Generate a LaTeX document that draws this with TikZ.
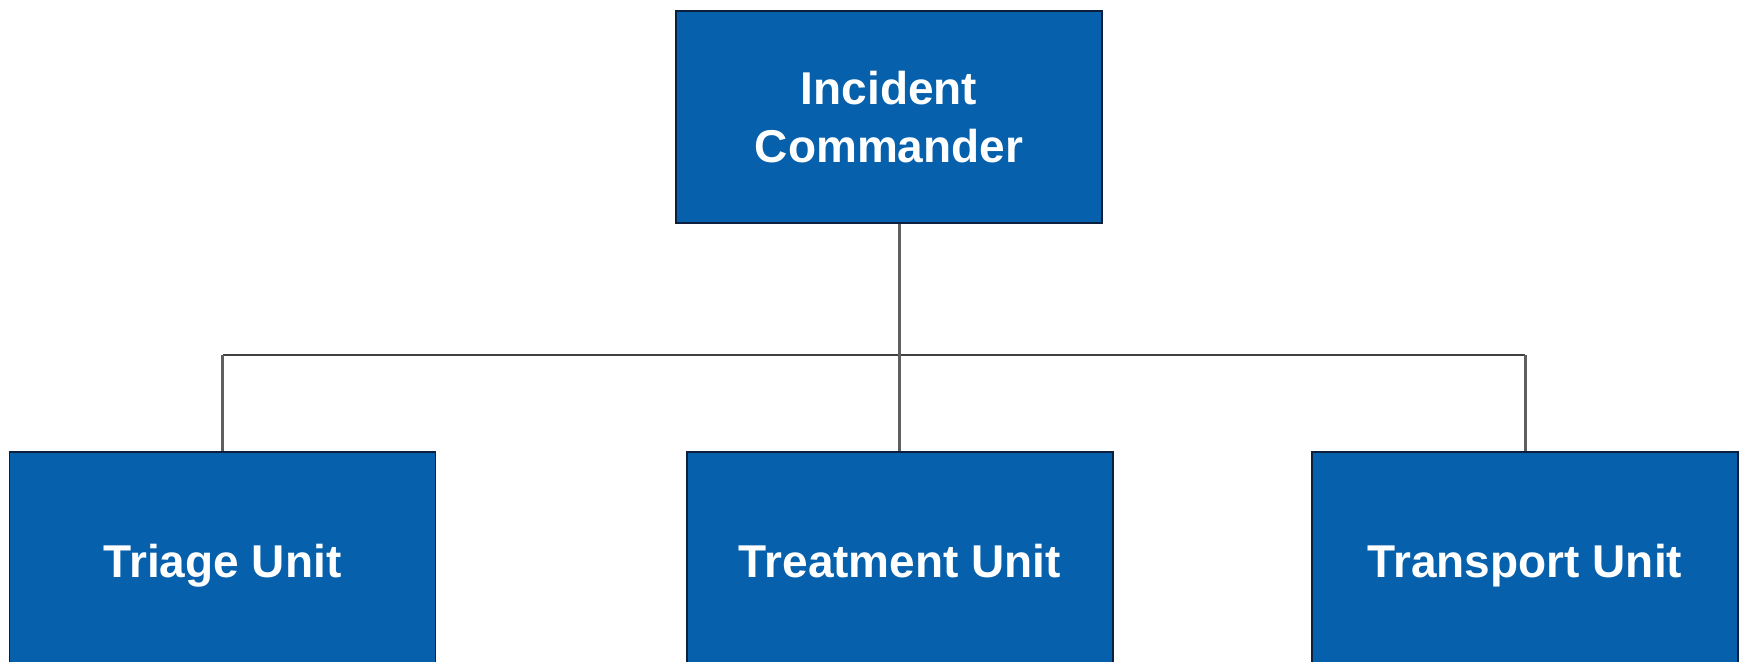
\documentclass[tikz,border=0pt]{standalone}
\usepackage{fontspec}
\setmainfont{Liberation Sans}
\definecolor{boxblue}{RGB}{6,96,172}
\definecolor{boxedge}{RGB}{12,32,62}
\definecolor{linegray}{RGB}{95,95,95}
\begin{document}
\begin{tikzpicture}[x=0.5pt,y=-0.5pt,
  unitbox/.style={draw=boxedge,line width=0.8pt,fill=boxblue,text=white,
    font=\bfseries\fontsize{23}{30}\selectfont,inner sep=0pt,
    minimum width=213pt,align=center},
  vline/.style={draw=linegray,line width=1.5pt},
  hline/.style={draw=black!75,line width=1pt}]
\useasboundingbox (0,0) rectangle (1740,661);
\clip (0,0) rectangle (1740,661);
\node[unitbox,minimum height=106pt] (ic) at (889,117) {Incident\\[-1pt]Commander};
\node[unitbox,minimum height=114pt,text height=16.5pt,text depth=4.8pt] (triage) at (222.5,566) {Triage Unit};
\node[unitbox,minimum height=114pt,text height=16.5pt,text depth=4.8pt] (treat) at (900,566) {Treatment Unit};
\node[unitbox,minimum height=114pt,text height=16.5pt,text depth=4.8pt] (transport) at (1525,566) {Transport Unit};
\coordinate (bar) at (899,355);
\draw[hline] (triage.north |- bar) -- (transport.north |- bar);
\draw[vline] (bar |- ic.south) -- (bar |- treat.north);
\draw[vline] (triage.north |- bar) -- (triage.north);
\draw[vline] (transport.north |- bar) -- (transport.north);
\end{tikzpicture}
\end{document}
